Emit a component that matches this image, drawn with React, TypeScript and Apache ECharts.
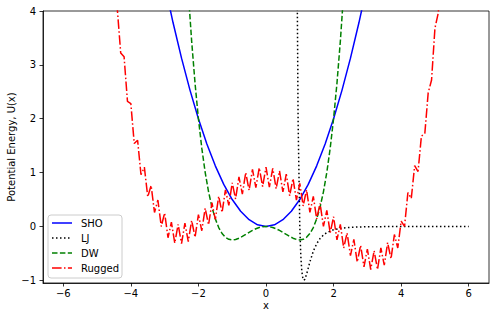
import React, { useEffect, useRef } from "react";
import * as echarts from "echarts";

const xTicks = [-6, -4, -2, 0, 2, 4, 6];
const yTicks = [-1, 0, 1, 2, 3, 4];

const seriesNames = ["SHO", "LJ", "DW", "Rugged"];
const seriesColors = ["#0000ff", "#000000", "#008000", "#ff0000"];
const seriesDash: (number[] | null)[] = [null, [1.5, 2.5], [5.5, 2.4], [9.6, 2.4, 1.5, 2.4]];

const shoX = [-3, -2.75, -2.5, -2.25, -2, -1.75, -1.5, -1.25, -1, -0.75, -0.5, -0.25, 0, 0.25, 0.5, 0.75, 1, 1.25, 1.5, 1.75, 2, 2.25, 2.5, 2.75, 3];
const shoY = [4.5, 3.781, 3.125, 2.531, 2, 1.531, 1.125, 0.781, 0.5, 0.281, 0.125, 0.031, 0, 0.031, 0.125, 0.281, 0.5, 0.781, 1.125, 1.531, 2, 2.531, 3.125, 3.781, 4.5];

const ljX = [0.9, 0.95, 1.0, 1.03, 1.06, 1.09, 1.12, 1.15, 1.2, 1.3, 1.4, 1.5, 1.6, 1.7, 1.8, 2.0, 2.2, 2.5, 3.0, 4.0, 5.0, 6.0];
const ljY = [6.64, 1.96, 0, -0.545, -0.832, -0.963, -1.0, -0.98, -0.89, -0.656, -0.46, -0.32, -0.224, -0.159, -0.114, -0.0615, -0.035, -0.016, -0.0055, -0.001, 0, 0];

const dwX = [-2.4, -2.3, -2.2, -2.1, -2.0, -1.9, -1.8, -1.7, -1.6, -1.5, -1.4, -1.3, -1.2, -1.1, -1.0, -0.9, -0.8, -0.7, -0.6, -0.5, -0.4, -0.3, -0.2, -0.1, 0, 0.1, 0.2, 0.3, 0.4, 0.5, 0.6, 0.7, 0.8, 0.9, 1.0, 1.1, 1.2, 1.3, 1.4, 1.5, 1.6, 1.7, 1.8, 1.9, 2.0, 2.1, 2.2, 2.3, 2.4];
const dwY = [5.41, 4.35, 3.437, 2.657, 2, 1.453, 1.004, 0.643, 0.358, 0.141, -0.02, -0.131, -0.202, -0.239, -0.25, -0.241, -0.218, -0.185, -0.148, -0.109, -0.074, -0.043, -0.02, -0.005, 0, -0.005, -0.02, -0.043, -0.074, -0.109, -0.148, -0.185, -0.218, -0.241, -0.25, -0.239, -0.202, -0.131, -0.02, 0.141, 0.358, 0.643, 1.004, 1.453, 2, 2.657, 3.437, 4.35, 5.41];

const ruggedX = [
  -4.5, -4.4, -4.3, -4.2, -4.1, -4.0, -3.9, -3.8, -3.7, -3.6, -3.5, -3.4, -3.3, -3.2, -3.1, -3.0,
  -2.9, -2.8, -2.7, -2.6, -2.5, -2.4, -2.3, -2.2, -2.1, -2.0, -1.9, -1.8, -1.7, -1.6, -1.5, -1.4,
  -1.3, -1.2, -1.1, -1.0, -0.9, -0.8, -0.7, -0.6, -0.5, -0.4, -0.3, -0.2, -0.1, 0.0, 0.1, 0.2,
  0.3, 0.4, 0.5, 0.6, 0.7, 0.8, 0.9, 1.0, 1.1, 1.2, 1.3, 1.4, 1.5, 1.6, 1.7, 1.8, 1.9, 2.0,
  2.1, 2.2, 2.3, 2.4, 2.5, 2.6, 2.7, 2.8, 2.9, 3.0, 3.1, 3.2, 3.3, 3.4, 3.5, 3.6, 3.7, 3.8,
  3.9, 4.0, 4.1, 4.2, 4.3, 4.4, 4.5, 4.6, 4.7, 4.8, 4.9, 5.0, 5.1, 5.2,
];
const ruggedY = [
  4.12, 4.03, 3.22, 3.15, 2.32, 2.28, 1.54, 1.6, 0.96, 1.1, 0.55, 0.76, 0.26, 0.49, 0.0, 0.25,
  -0.21, 0.08, -0.31, 0.04, -0.32, 0.06, -0.28, 0.11, -0.2, 0.22, -0.08, 0.34, 0.03, 0.44, 0.13, 0.56,
  0.26, 0.68, 0.39, 0.81, 0.51, 0.92, 0.6, 1.0, 0.67, 1.06, 0.72, 1.09, 0.74, 1.1, 0.73, 1.08,
  0.7, 1.03, 0.64, 0.97, 0.57, 0.89, 0.49, 0.8, 0.38, 0.68, 0.26, 0.56, 0.14, 0.43, 0.0, 0.3, -0.12, 0.18,
  -0.25, 0.04, -0.4, -0.12, -0.54, -0.24, -0.66, -0.35, -0.75, -0.42, -0.8, -0.45, -0.8, -0.4, -0.72, -0.3, -0.6, -0.15,
  -0.4, 0.1, 0.0, 0.63, 0.52, 1.13, 1.02, 1.68, 1.72, 2.48, 2.72, 3.68, 3.97, 4.98,
];

const zip = (xs: number[], ys: number[]) => xs.map((x, i) => [x, ys[i]]);
const fmt = (v: number) => (v < 0 ? "\u2212" + Math.abs(v) : String(v));
const FONT = "DejaVu Sans";

export default function App() {
  const ref = useRef<HTMLDivElement>(null);
  useEffect(() => {
    if (!ref.current) return;
    const chart = echarts.init(ref.current, undefined, { renderer: "svg" });
    const axisCommon = {
      type: "value" as const,
      nameLocation: "middle" as const,
      nameMoveOverlap: false,
      nameTextStyle: { color: "#000", fontSize: 10, fontFamily: FONT },
      axisLine: { show: true, onZero: false, lineStyle: { color: "#000", width: 0.8 } },
      splitLine: { show: false },
    };
    const legendTop = 215;
    const rowH = 15;
    const legendChildren: any[] = [
      {
        type: "rect",
        shape: { x: 48, y: legendTop, width: 74, height: 63, r: 3 },
        style: { fill: "rgba(255,255,255,0.8)", stroke: "#cccccc", lineWidth: 1 },
      },
    ];
    seriesNames.forEach((name, i) => {
      const cy = legendTop + 8 + i * rowH;
      legendChildren.push({
        type: "line",
        shape: { x1: 52, y1: cy, x2: 72, y2: cy },
        style: {
          stroke: seriesColors[i],
          lineWidth: 1.5,
          lineDash: seriesDash[i] || undefined,
        },
      });
      legendChildren.push({
        type: "text",
        x: 81,
        y: cy,
        style: {
          text: name,
          fill: "#000",
          font: `10px '${FONT}'`,
          verticalAlign: "middle",
          align: "left",
        },
      });
    });
    chart.setOption({
      animation: false,
      backgroundColor: "#fff",
      textStyle: { fontFamily: FONT },
      grid: {
        left: 43, right: 11, top: 11, bottom: 38,
        outerBoundsMode: "none",
        containLabel: false,
        show: true, borderColor: "#000", borderWidth: 0.8,
      },
      xAxis: {
        ...axisCommon,
        min: -6.6,
        max: 6.6,
        name: "x",
        nameGap: 17,
        axisTick: { show: true, length: 3.5, lineStyle: { color: "#000", width: 0.8 }, customValues: xTicks },
        axisLabel: { customValues: xTicks, formatter: fmt, color: "#000", fontSize: 10, fontFamily: FONT, margin: 5 },
      },
      yAxis: {
        ...axisCommon,
        min: -1.05,
        max: 4,
        name: "Potential Energy, U(x)",
        nameGap: 27,
        axisTick: { show: true, length: 3.5, lineStyle: { color: "#000", width: 0.8 }, customValues: yTicks },
        axisLabel: { customValues: yTicks, formatter: fmt, color: "#000", fontSize: 10, fontFamily: FONT, margin: 7 },
      },
      graphic: [{ type: "group", z: 100, children: legendChildren }],
      series: [
        {
          name: "SHO", type: "line", data: zip(shoX, shoY), symbol: "none", clip: true,
          lineStyle: { color: seriesColors[0], width: 1.5, type: "solid" },
        },
        {
          name: "LJ", type: "line", data: zip(ljX, ljY), symbol: "none", clip: true,
          lineStyle: { color: seriesColors[1], width: 1.5, type: seriesDash[1] },
        },
        {
          name: "DW", type: "line", data: zip(dwX, dwY), symbol: "none", clip: true,
          lineStyle: { color: seriesColors[2], width: 1.5, type: seriesDash[2] },
        },
        {
          name: "Rugged", type: "line", data: zip(ruggedX, ruggedY), symbol: "none", clip: true,
          lineStyle: { color: seriesColors[3], width: 1.5, type: seriesDash[3] },
        },
      ],
    });
    return () => chart.dispose();
  }, []);
  return <div ref={ref} style={{ position: "fixed", left: 0, top: 0, width: 500, height: 321 }} />;
}
